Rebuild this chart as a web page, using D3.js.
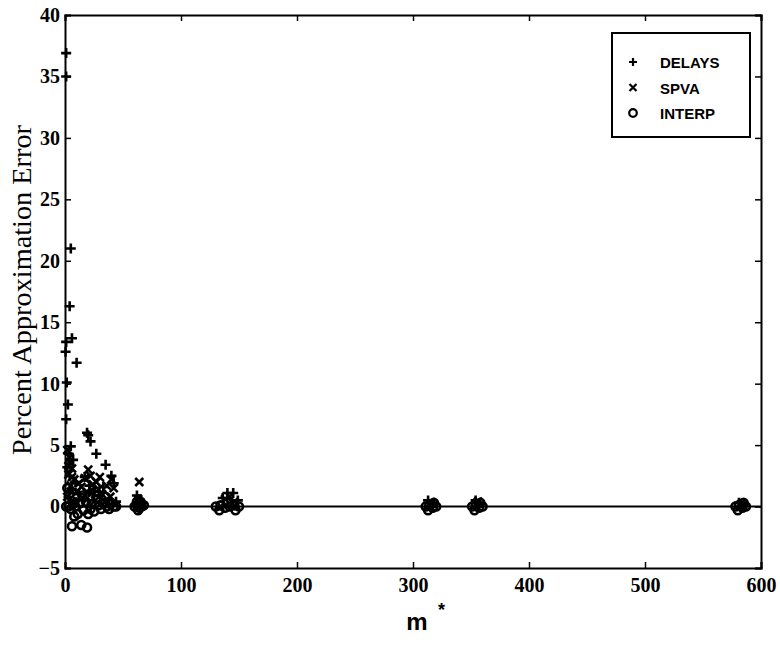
<!DOCTYPE html>
<html>
<head>
<meta charset="utf-8">
<style>
  body { margin: 0; background: #fff; }
  .tick text { font-family: "Liberation Serif", "Times New Roman", serif; font-weight: bold; font-size: 20px; fill: #000; }
  .legend text { font-family: "Liberation Sans", Arial, sans-serif; font-weight: bold; font-size: 15px; }
</style>
</head>
<body>
<svg id="chart" width="780" height="648"></svg>
<script src="https://cdnjs.cloudflare.com/ajax/libs/d3/7.8.5/d3.min.js"></script>
<script>
// percent approximation error against m* as [m*, error]
var delays = [
  [1, 36.9], [1, 35.0], [5, 21.0], [4, 16.3], [6, 13.7], [1, 13.4], [0.5, 12.6], [10, 11.7],
  [1.5, 10.1], [2.5, 8.3], [1, 7.1], [5, 4.9], [3, 4.3], [7, 3.8], [2, 3.2], [4, 2.5],
  [9, 2.0], [6, 1.4], [3, 0.8], [8, 0.4], [12, 1.0],
  [19, 6.0], [20, 5.8], [22, 5.3], [27, 4.3], [35, 3.4], [40, 2.5], [42, 1.9], [17, 2.4],
  [21, 1.7], [25, 1.2], [30, 0.9], [33, 1.6], [38, 0.6], [44, 0.4],
  [62, 0.9], [64, 0.6], [66, 0.3],
  [136, 0.7], [140, 1.1], [145, 1.1], [149, 0.5],
  [313, 0.5], [318, 0.3], [354, 0.5], [358, 0.3], [581, 0.3], [585, 0.2]
];
var spva = [
  [2, 4.6], [4, 3.6], [6, 3.1], [3, 2.6], [8, 2.2], [5, 1.7], [10, 1.2], [2, 0.8], [7, 0.4],
  [17, 2.3], [20, 3.0], [22, 2.5], [24, 1.8], [19, 1.2], [27, 2.0], [29, 1.4], [32, 1.0],
  [36, 1.7], [40, 2.2], [42, 1.5], [39, 0.8], [26, 0.5], [14, 1.6], [15, 0.7], [34, 0.4],
  [4, 4.0], [3, 3.3], [6, 2.4], [12, 1.9], [23, 1.1], [30, 2.4],
  [64, 2.0], [63, 0.6], [65, 0.3],
  [138, 0.6], [142, 0.8], [146, 0.4],
  [316, 0.3], [356, 0.4], [583, 0.2]
];
var interp = [
  [1, 0], [3, 0], [5, -0.2], [7, 0.2], [9, 0], [6, -1.6], [14, -1.5], [19, -1.7], [11, -0.6],
  [16, -0.3], [18, 0.4], [21, 0.8], [23, 0.2], [25, -0.4], [28, 0.6], [31, -0.2], [33, 0.3],
  [36, 0.0], [39, 0.2], [42, 0], [44, 0], [13, 0.3], [20, -0.6], [26, 1.2], [35, 0.8],
  [2, 1.5], [4, 1.0], [8, -0.8], [15, 0.9], [22, -0.2], [29, 0.1], [38, -0.2],
  [60, 0], [62, 0.1], [64, -0.1], [66, 0], [68, 0.1], [62, 0.4], [65, 0.4], [63, -0.3],
  [130, 0], [134, 0.1], [138, -0.1], [142, 0], [146, 0.1], [150, 0], [133, -0.3], [140, 0.3], [147, -0.3],
  [311, 0], [314, 0.1], [317, -0.1], [320, 0], [313, -0.3], [318, 0.3],
  [351, 0], [354, 0.1], [357, -0.1], [360, 0], [353, -0.3], [358, 0.3],
  [578, 0], [581, 0.1], [584, -0.1], [587, 0], [580, -0.3], [585, 0.3]
];
var xTicks = [0, 100, 200, 300, 400, 500, 600];
var yTicks = [-5, 0, 5, 10, 15, 20, 25, 30, 35, 40];
var seriesNames = ["DELAYS", "SPVA", "INTERP"];

var svg = d3.select("#chart"),
    plotL = 65, plotR = 761, plotT = 15, plotB = 568;

var x = d3.scaleLinear().domain([0, 600]).range([plotL, plotR]);
var y = d3.scaleLinear().domain([-5, 40]).range([plotB, plotT]);

// axes: ticks point inwards, like the original
svg.append("g")
    .attr("transform", "translate(0," + plotB + ")")
    .call(d3.axisBottom(x).tickValues(xTicks).tickSize(-6).tickPadding(10).tickFormat(d3.format("d")));
svg.append("g")
    .attr("transform", "translate(0," + plotT + ")")
    .call(d3.axisTop(x).tickValues(xTicks).tickSize(-6).tickFormat(""));
svg.append("g")
    .attr("transform", "translate(" + plotL + ",0)")
    .call(d3.axisLeft(y).tickValues(yTicks).tickSize(-6).tickPadding(5));
svg.append("g")
    .attr("transform", "translate(" + plotR + ",0)")
    .call(d3.axisRight(y).tickValues(yTicks).tickSize(-6).tickFormat(""));

svg.selectAll(".domain").attr("stroke", "#000").attr("stroke-width", 2);
svg.selectAll(".tick line").attr("stroke", "#000").attr("stroke-width", 1.5);

// zero line
svg.append("line")
    .attr("x1", x(0)).attr("x2", x(600))
    .attr("y1", y(0)).attr("y2", y(0))
    .attr("stroke", "#000").attr("stroke-width", 2);

var plusPath = "M-5,0H5M0,-5V5",
    crossPath = "M-4,-4L4,4M-4,4L4,-4";

svg.append("g").selectAll("circle")
    .data(interp)
  .enter().append("circle")
    .attr("cx", function(d) { return x(d[0]); })
    .attr("cy", function(d) { return y(d[1]); })
    .attr("r", 4)
    .attr("fill", "none").attr("stroke", "#000").attr("stroke-width", 2.6);

svg.append("g").selectAll("path")
    .data(spva)
  .enter().append("path")
    .attr("transform", function(d) { return "translate(" + x(d[0]) + "," + y(d[1]) + ")"; })
    .attr("d", crossPath)
    .attr("stroke", "#000").attr("stroke-width", 2.6);

svg.append("g").selectAll("path")
    .data(delays)
  .enter().append("path")
    .attr("transform", function(d) { return "translate(" + x(d[0]) + "," + y(d[1]) + ")"; })
    .attr("d", plusPath)
    .attr("stroke", "#000").attr("stroke-width", 2.6);

// legend
var lg = svg.append("g").attr("class", "legend");
lg.append("rect")
    .attr("x", 612).attr("y", 33).attr("width", 138).attr("height", 104)
    .attr("fill", "#fff").attr("stroke", "#000").attr("stroke-width", 2);
var shapes = ["M-4,0H4M0,-4V4", "M-3.5,-3.5L3.5,3.5M-3.5,3.5L3.5,-3.5", null];
seriesNames.forEach(function(name, i) {
  var cy = 62 + i * 25.5;
  if (shapes[i]) {
    lg.append("path").attr("transform", "translate(633," + cy + ")")
      .attr("d", shapes[i]).attr("stroke", "#000").attr("stroke-width", 2.2);
  } else {
    lg.append("circle").attr("cx", 633).attr("cy", cy).attr("r", 3.8)
      .attr("fill", "none").attr("stroke", "#000").attr("stroke-width", 2.2);
  }
  lg.append("text").attr("x", 660).attr("y", cy + 6).text(name);
});

// axis titles
svg.append("text")
    .attr("transform", "translate(31,290) rotate(-90)")
    .attr("text-anchor", "middle")
    .attr("textLength", 330)
    .attr("lengthAdjust", "spacingAndGlyphs")
    .style("font-family", "'Liberation Serif', 'Times New Roman', serif")
    .style("font-size", "27px")
    .text("Percent Approximation Error");
svg.append("text")
    .attr("x", 417).attr("y", 630)
    .attr("text-anchor", "middle")
    .style("font-family", "'Liberation Sans', Arial, sans-serif")
    .style("font-weight", "bold")
    .style("font-size", "24px")
    .text("m");
svg.append("text")
    .attr("x", 438).attr("y", 616)
    .style("font-family", "'Liberation Sans', Arial, sans-serif")
    .style("font-weight", "bold")
    .style("font-size", "18px")
    .text("*");
</script>
</body>
</html>
